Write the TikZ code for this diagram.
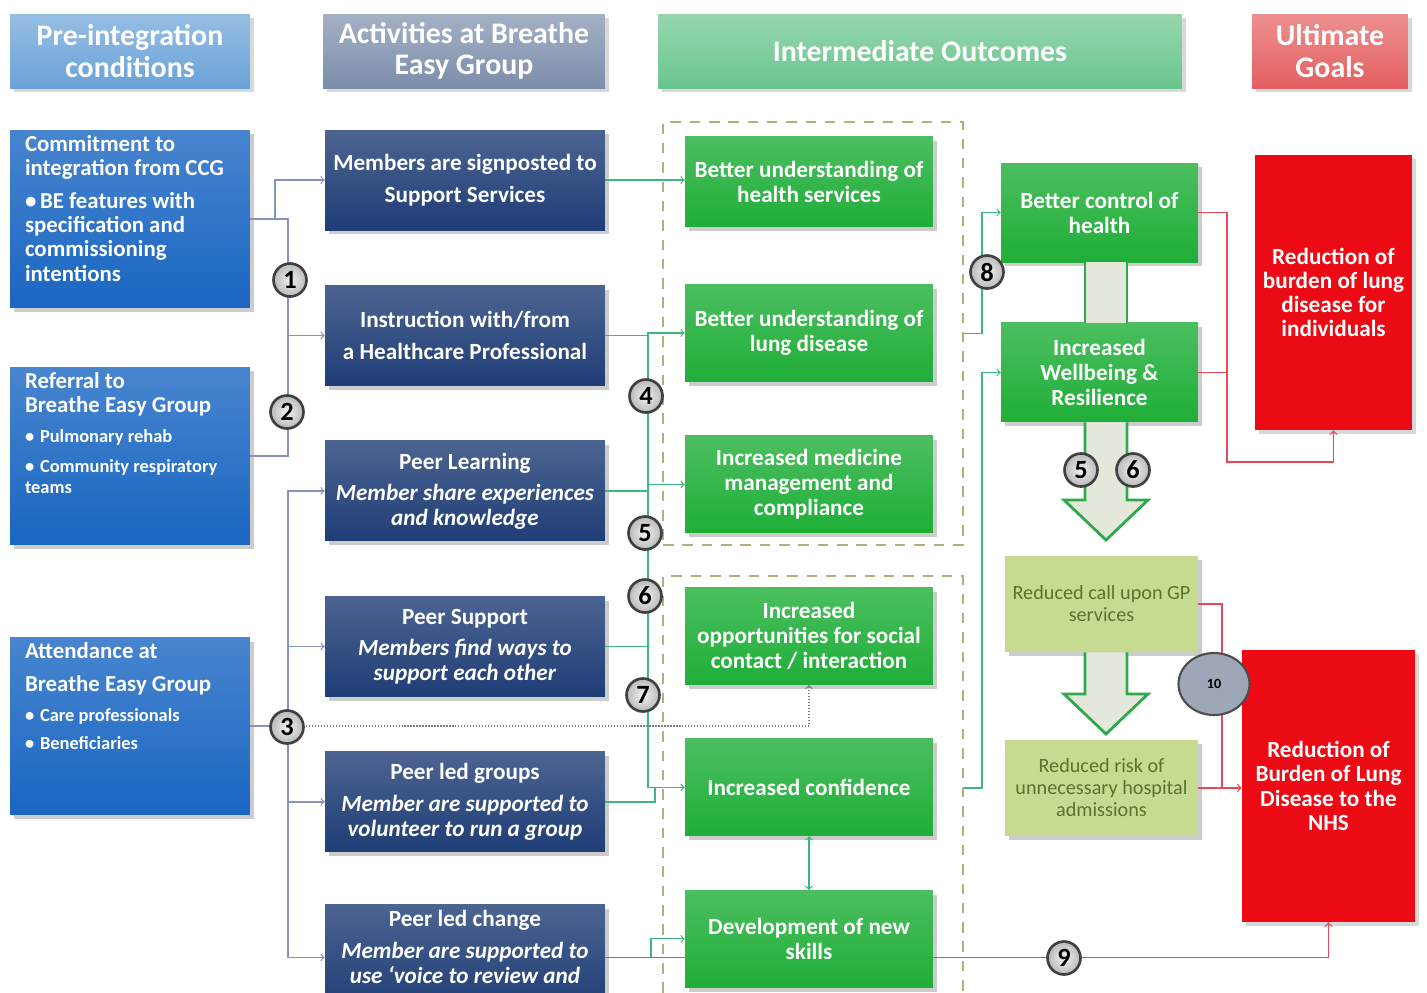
\documentclass[tikz,border=0pt]{standalone}
\usepackage{fontspec}
\setmainfont{Carlito}
\usepackage{tikz}
\usetikzlibrary{positioning,shapes.geometric,shadows}

\definecolor{hdpre}{HTML}{6AA2D8}
\definecolor{hdact}{HTML}{7D8EAB}
\definecolor{hdout}{HTML}{6AC58E}
\definecolor{hdgoal}{HTML}{E45F60}
\definecolor{preblue}{HTML}{1A66C2}
\definecolor{actblue}{HTML}{1F3D76}
\definecolor{outgreen}{HTML}{1FAE38}
\definecolor{paleolive}{HTML}{C6DA92}
\definecolor{olivetext}{HTML}{5E7230}
\definecolor{goalred}{HTML}{EC0A14}
\definecolor{grpdash}{HTML}{B3AE7E}
\definecolor{lineblue}{HTML}{8494BE}
\definecolor{linegreen}{HTML}{3DB77E}
\definecolor{linered}{HTML}{E9485A}
\definecolor{arrowfill}{HTML}{E3E8DA}
\definecolor{arrowgreen}{HTML}{2EAA4C}
\definecolor{tenfill}{HTML}{9EA7B8}

\newcommand{\bul}{\par\hangindent=0.3cm\hangafter=1\noindent\makebox[0.3cm][l]{\textbullet}}

\begin{document}
\begin{tikzpicture}[x=0.02cm,y=-0.02cm,node distance=3.11cm,on grid,
	hdbox/.style={rectangle,text=white,font=\bfseries\fontsize{17}{18}\selectfont,align=center,minimum height=1.48cm,drop shadow={opacity=0.3}},
	prebox/.style={rectangle,top color=preblue!80!white,bottom color=preblue,text=white,font=\bfseries\fontsize{13}{13.8}\selectfont,inner xsep=0.3cm,inner ysep=0.1cm,drop shadow={opacity=0.4}},
	actbox/.style={rectangle,top color=actblue!80!white,bottom color=actblue,text=white,font=\bfseries\fontsize{13.2}{14}\selectfont,align=center,minimum width=5.6cm,minimum height=2cm,drop shadow={opacity=0.4}},
	outbox/.style={rectangle,top color=outgreen!80!white,bottom color=outgreen,text=white,font=\bfseries\fontsize{13.2}{14.2}\selectfont,align=center,minimum width=4.96cm,minimum height=1.94cm,inner xsep=1pt,drop shadow={opacity=0.4}},
	midbox/.style={outbox,minimum width=3.94cm,minimum height=1.98cm},
	nhsbox/.style={rectangle,fill=paleolive,text=olivetext,font=\fontsize{11.5}{12.5}\selectfont,align=center,minimum width=3.86cm,minimum height=1.92cm,inner xsep=1pt,drop shadow={opacity=0.4}},
	goalbox/.style={rectangle,fill=goalred,text=white,font=\bfseries\fontsize{13.2}{13.8}\selectfont,align=center,drop shadow={opacity=0.3}},
	grpbox/.style={rectangle,draw=grpdash,line width=1.3pt,dash pattern=on 6pt off 5pt,minimum width=6cm},
	numball/.style={circle,draw=black!75,line width=1.5pt,inner color=gray!10,outer color=gray!55,font=\bfseries\fontsize{15}{15}\selectfont,minimum size=0.66cm,inner sep=0pt},
	blueline/.style={draw=lineblue,line width=0.7pt},
	greenline/.style={draw=linegreen,line width=0.7pt},
	redline/.style={draw=linered,line width=0.8pt},
	dotline/.style={draw=gray,line width=0.7pt,densely dotted},
	bigarrow/.style={fill=arrowfill,draw=arrowgreen,line width=1.6pt}
	]
	\fill[white] (0,0) rectangle (1427,992);
	\useasboundingbox (0,0) rectangle (1427,992);

	% column headers
	\node[hdbox,top color=hdpre!70!white,bottom color=hdpre,minimum width=4.8cm] (hd_1) at (130,51) {Pre-integration\\conditions};
	\node[hdbox,top color=hdact!70!white,bottom color=hdact,minimum width=5.64cm] (hd_2) at (464,51) {Activities at Breathe\\Easy Group};
	\node[hdbox,top color=hdout!70!white,bottom color=hdout,minimum width=10.48cm] (hd_3) at (920,51) {Intermediate Outcomes};
	\node[hdbox,top color=hdgoal!70!white,bottom color=hdgoal,minimum width=3.12cm] (hd_4) at (1330,51) {Ultimate\\Goals};

	% pre-integration conditions
	\node[prebox] (pre_1) at (130,219) {\begin{minipage}[c][3.36cm][t]{4.2cm}\raggedright
		Commitment to\\integration from CCG\par\vspace{5pt}
		\bul BE features with\\specification and\\commissioning\\intentions\par
	\end{minipage}};
	\node[prebox] (pre_2) at (130,456) {\begin{minipage}[c][3.36cm][t]{4.2cm}\raggedright
		Referral to\\Breathe Easy Group\par\vspace{5pt}
		{\fontsize{10.5}{12}\selectfont\bul Pulmonary rehab\par\vspace{5pt}
		\bul Community respiratory\\teams\par}
	\end{minipage}};
	\node[prebox] (pre_3) at (130,726) {\begin{minipage}[c][3.34cm][t]{4.2cm}\raggedright
		Attendance at\\[5pt]Breathe Easy Group\par\vspace{5pt}
		{\fontsize{10.5}{12}\selectfont\bul Care professionals\par\vspace{4pt}
		\bul Beneficiaries\par}
	\end{minipage}};

	% activities
	\node[actbox] (act_1) at (465,180) {Members are signposted to\\[4pt]Support Services};
	\node[actbox] (act_2) [below=of act_1] {Instruction with/from\\[4pt]a Healthcare Professional};
	\node[actbox] (act_3) [below=of act_2] {Peer Learning\\[4pt]\textit{Member share experiences}\\\textit{and knowledge}};
	\node[actbox] (act_4) [below=of act_3] {Peer Support\\[4pt]\textit{Members find ways to}\\\textit{support each other}};
	\node[actbox] (act_5) [below=of act_4] {Peer led groups\\[4pt]\textit{Member are supported to}\\\textit{volunteer to run a group}};
	\node[actbox] (act_6) [below=of act_5] {Peer led change\\[4pt]\textit{Member are supported to}\\\textit{use ‘voice to review and}\\[-2pt]\mbox{}};

	% intermediate outcomes
	\node[grpbox,minimum height=8.46cm] (grp_1) at (813,333.5) {};
	\node[grpbox,minimum height=8.48cm] (grp_2) at (813,788) {};
	\node[outbox,minimum height=1.8cm] (out_1) at (809,181.5) {Better understanding of\\health services};
	\node[outbox] (out_2) [below=3.03cm of out_1] {Better understanding of\\lung disease};
	\node[outbox] (out_3) [below=3.03cm of out_2] {Increased medicine\\management and\\compliance};
	\node[outbox] (out_4) [below=3.03cm of out_3] {Increased\\opportunities for social\\contact / interaction};
	\node[outbox] (out_5) [below=3.03cm of out_4] {Increased confidence};
	\node[outbox] (out_6) [below=3.03cm of out_5] {Development of new\\skills};

	\node[midbox] (mid_1) at (1099.5,212.5) {Better control of\\health};
	\node[midbox] (mid_2) [below=3.2cm of mid_1] {Increased\\Wellbeing \&\\Resilience};
	\node[nhsbox] (nhs_1) at (1101.5,604) {Reduced call upon GP\\services};
	\node[nhsbox] (nhs_2) [below=3.68cm of nhs_1] {Reduced risk of\\unnecessary hospital\\admissions};

	% ultimate goals
	\node[goalbox,minimum width=3.14cm,minimum height=5.5cm] (goal_1) at (1333.5,292.5) {Reduction of\\burden of lung\\disease for\\individuals};
	\node[goalbox,minimum width=3.46cm,minimum height=5.44cm] (goal_2) at (1328.5,786) {Reduction of\\Burden of Lung\\Disease to the\\NHS};

	% block arrows
	\fill[arrowfill] (1085,0 |- mid_1.south) rectangle (1127,0 |- mid_2.north);
	\draw[arrowgreen,line width=1.6pt] (1085,0 |- mid_1.south) -- (1085,0 |- mid_2.north) (1127,0 |- mid_1.south) -- (1127,0 |- mid_2.north);
	\filldraw[bigarrow] (1085,0 |- mid_2.south) -- (1085,500) -- (1064,500) -- (1106,540) -- (1148,500) -- (1127,500) -- (1127,0 |- mid_2.south);
	\filldraw[bigarrow] (1085,0 |- nhs_1.south) -- (1085,694) -- (1064,694) -- (1106,734) -- (1148,694) -- (1127,694) -- (1127,0 |- nhs_1.south);

	% pre-integration to activities
	\draw[blueline,->] (pre_1.east) -- (275,219) |- (act_1.west);
	\draw[blueline] (pre_1.east) -| (288,456) -- (pre_2.east);
	\draw[blueline,->] (288,0 |- act_2.west) -- (act_2.west);
	\draw[blueline,->] (pre_3.east) -- (288,726) |- (act_3.west);
	\draw[blueline,->] (288,726) |- (act_4.west);
	\draw[blueline,->] (288,726) |- (act_5.west);
	\draw[blueline,->] (288,726) |- (act_6.west);
	\draw[dotline,->] (288,726) -| (out_4.south);

	% activities to outcomes
	\draw[greenline,->] (act_1.east) -- (act_1.east -| out_1.west);
	\draw[greenline] (act_2.east) -- ++(43,0);
	\draw[greenline,->] (648,0 |- act_2.east) |- (out_2.west);
	\draw[greenline,->] (648,0 |- act_2.east) |- (out_3.west);
	\draw[greenline,->] (648,0 |- act_2.east) |- (out_5.west);
	\draw[greenline] (act_3.east) -- ++(43,0);
	\draw[greenline] (act_4.east) -- ++(43,0);
	\draw[greenline] (act_5.east) -| (655,0 |- out_5.west);
	\draw[redline] (act_6.east) -- (act_6.east -| out_6.west);
	\draw[greenline,->] (651,0 |- act_6.east) |- (out_6.west);
	\draw[greenline,<->] (out_5.south) -- (out_6.north);

	% outcomes onwards
	\draw[greenline,->] (grp_1.east) -- (982,0 |- grp_1.east) |- (mid_1.west);
	\draw[greenline,->] (grp_2.east) -- (982,0 |- grp_2.east) |- (mid_2.west);
	\draw[redline,->] (out_6.east |- act_6.east) -| (goal_2.south);
	\draw[redline,->] (mid_1.east) -| (1227,462) -| (goal_1.south);
	\draw[redline] (mid_2.east) -- (1227,0 |- mid_2.east);
	\draw[redline,->] (nhs_1.east) -| (1222,0 |- nhs_2.east) -- (goal_2.west |- nhs_2.east);
	\draw[redline] (nhs_2.east) -- (1222,0 |- nhs_2.east);

	% numbered links
	\node[numball] (n_1) at (290,280) {1};
	\node[numball] (n_2) at (287,412) {2};
	\node[numball] (n_3) at (287,727) {3};
	\node[numball] (n_4) at (646,396) {4};
	\node[numball] (n_5) at (645,533) {5};
	\node[numball] (n_6) at (645,596) {6};
	\node[numball] (n_7) at (643,695) {7};
	\node[numball] (n_8) at (987,272) {8};
	\node[numball] (n_5b) at (1081,470) {5};
	\node[numball] (n_6b) at (1133,470) {6};
	\node[numball] (n_9) at (1064,958) {9};
	\node[ellipse,draw=black!70,line width=1.2pt,fill=tenfill,font=\bfseries\fontsize{8}{8}\selectfont,minimum width=1.42cm,minimum height=1.24cm] (n_10) at (1214,684) {10};
\end{tikzpicture}
\end{document}
